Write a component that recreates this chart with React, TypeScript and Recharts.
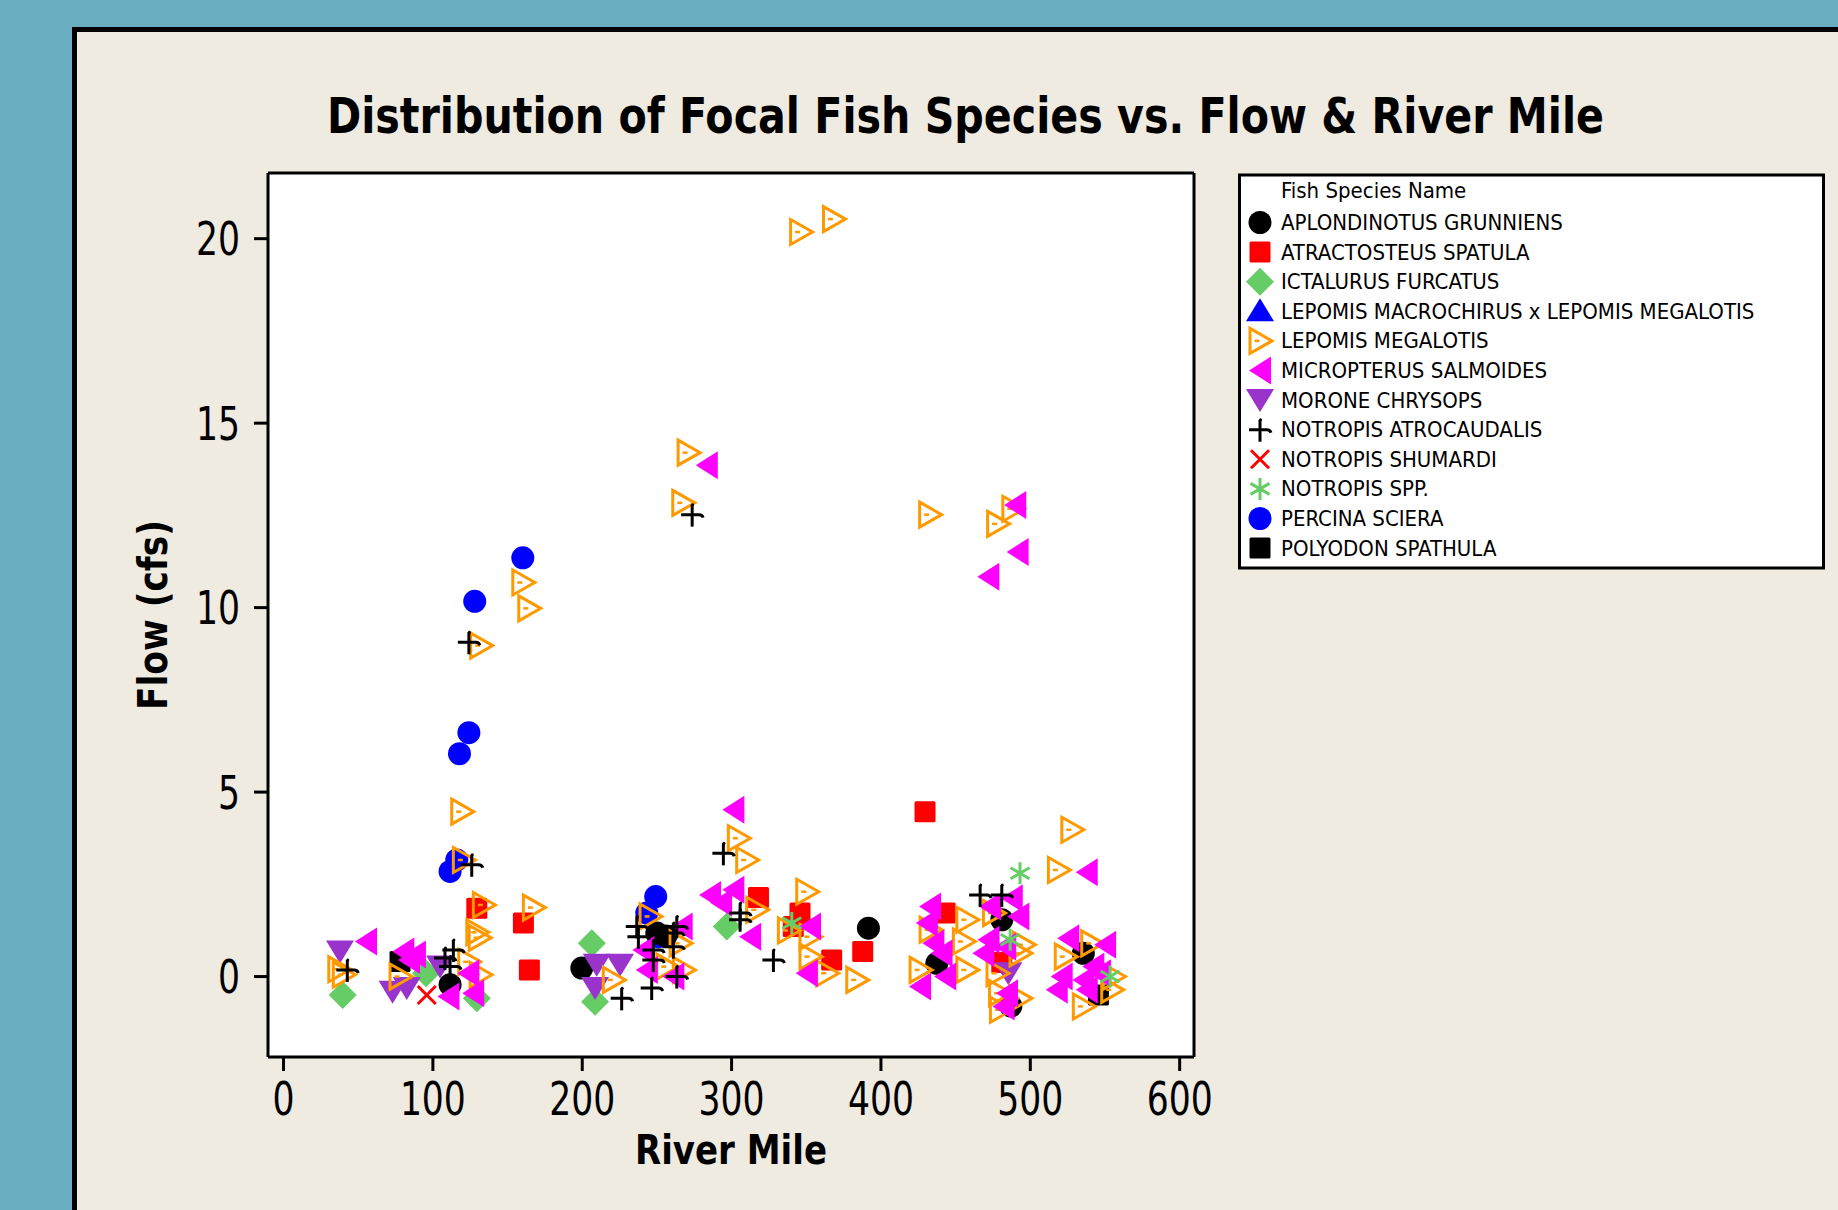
import React from 'react';
import { ScatterChart, Scatter, XAxis, YAxis, CartesianGrid } from 'recharts';

// ---------- axes ----------
const X_DOMAIN: [number, number] = [-10.4, 609.6];
const Y_DOMAIN: [number, number] = [-2.18, 21.78];
const X_TICKS = [0, 100, 200, 300, 400, 500, 600];
const Y_TICKS = [0, 5, 10, 15, 20];

const TITLE = 'Distribution of Focal Fish Species vs. Flow & River Mile';
const X_LABEL = 'River Mile';
const Y_LABEL = 'Flow (cfs)';
const LEGEND_TITLE = 'Fish Species Name';

// ---------- species (legend order) ----------
const SPECIES_NAMES = [
  'APLONDINOTUS GRUNNIENS',
  'ATRACTOSTEUS SPATULA',
  'ICTALURUS FURCATUS',
  'LEPOMIS MACROCHIRUS x LEPOMIS MEGALOTIS',
  'LEPOMIS MEGALOTIS',
  'MICROPTERUS SALMOIDES',
  'MORONE CHRYSOPS',
  'NOTROPIS ATROCAUDALIS',
  'NOTROPIS SHUMARDI',
  'NOTROPIS SPP.',
  'PERCINA SCIERA',
  'POLYODON SPATHULA',
];

// ---------- data: [river mile, flow] ----------
const aplodinotus: number[][] = [
  [199.7, 0.23], [111.5, -0.22], [249.9, 1.18], [256, 1.1], [391.6, 1.31],
  [437.4, 0.36], [480.9, 1.54], [487, -0.8], [535.5, 0.63],
];
const atractosteus: number[][] = [
  [129.4, 1.85], [160.6, 1.45], [164.6, 0.18], [318, 2.14], [341.3, 1.36],
  [345.8, 1.72], [367, 0.45], [387.8, 0.68], [429.5, 4.47], [443, 1.72], [480.9, 0.38],
];
const ictalurus: number[][] = [
  [39.6, -0.5], [95.4, 0.09], [129.4, -0.59], [206.4, 0.9], [208.6, -0.68], [296.8, 1.36],
];
const lepomisHybrid: number[][] = [];
const lepomisMegalotis: number[][] = [
  [37, 0.2], [40, 0.05], [78, 0], [119.3, 4.47], [120.4, 3.16], [124, 0.4], [129.4, 1.2],
  [131, 1.05], [131.6, 0.05], [132, 8.97], [133.8, 1.94], [160.2, 10.68], [164.2, 9.98],
  [167.3, 1.87], [220.8, -0.09], [245.4, 1.63], [256.6, 0.27], [265.5, 0.9], [267.7, 0.18],
  [267.3, 12.84], [270.9, 14.2], [304.5, 3.75], [310.1, 3.16], [316.8, 1.81], [346.2, 20.18],
  [368.2, 20.53], [350.3, 2.3], [352.5, 1.08], [352.5, 0.54], [363.7, 0.09], [383.8, -0.09],
  [338, 1.25], [426.2, 0.18], [432.9, 1.27], [432.6, 12.52], [455.2, 0.95], [457.5, 1.54],
  [457.5, 0.18], [475.3, 1.72], [477.7, 0.09], [478.1, 12.27], [479.4, -0.45], [480, -0.9],
  [488.3, 12.68], [493.1, 0.63], [493.1, -0.59], [495.4, 0.86], [518.8, 2.89], [523.4, 0.54],
  [527.8, 3.98], [535.5, -0.81], [541.1, 0.9], [554.5, -0.36], [555.6, 0],
];
const micropterus: number[][] = [
  [55.2, 0.95], [80.2, 0.68], [88, 0.6], [84, 0.45], [110.4, -0.54], [123.7, 0.09], [127, -0.45],
  [240.9, 0.72], [243.2, 0.18], [261, 0], [266.6, 1.36], [283.4, 13.86], [285.6, 2.21], [293, 2.0],
  [301.2, 4.52], [301.2, 2.35], [312.4, 1.08], [352.5, 1.36], [350.3, 0.09], [426.2, -0.27],
  [430.7, 1.45], [432.9, 1.9], [435.1, 0.9], [440.6, 0.63], [443, 0], [468.6, 0.63], [471.9, 10.84],
  [472, 1.0], [473, 1.9], [482.1, -0.81], [483.2, 0.81], [484.4, -0.45], [487.6, 2.12],
  [489.9, 12.78], [491.5, 11.51], [492, 1.63], [517.7, -0.36], [521, 0], [525.4, 1.04],
  [535.5, -0.09], [537.8, 2.83], [537.8, -0.36], [542.2, 0.27], [546.7, 0.09], [550.1, 0.86],
];
const morone: number[][] = [
  [37.8, 0.68], [73, -0.41], [82.5, -0.31], [104.8, 0.27], [208.6, -0.31], [209.7, 0.32],
  [225.3, 0.32], [485.3, 0.09],
];
const notropisAtro: number[][] = [
  [42.7, 0.18], [108.1, 0.5], [111.5, 0.27], [113.7, 0.72], [124.1, 9.06], [126, 3.03],
  [226.4, -0.59], [236.5, 1.36], [237.6, 1.08], [246.5, -0.31], [247.6, 0.72], [247.6, 0.45],
  [261, 1.18], [261, 0.81], [263.3, 1.36], [263.3, 0], [273.6, 12.52], [294.5, 3.34],
  [305.7, 1.72], [305.7, 1.54], [328, 0.45], [466.4, 2.21], [480.9, 2.21],
];
const notropisShumardi: number[][] = [[95.9, -0.5]];
const notropisSpp: number[][] = [[340.3, 1.45], [486.5, 1.0], [493.1, 2.8], [553.4, 0]];
const percina: number[][] = [
  [111.5, 2.85], [116, 3.16], [117.8, 6.04], [124.1, 6.61], [128, 10.17], [160.2, 11.35],
  [243.2, 1.72], [249.2, 2.17], [251, 1.08],
];
const polyodon: number[][] = [[78, 0.41], [545.6, -0.5]];

const SPECIES_DATA = [
  aplodinotus, atractosteus, ictalurus, lepomisHybrid, lepomisMegalotis, micropterus,
  morone, notropisAtro, notropisShumardi, notropisSpp, percina, polyodon,
];
const SPECIES_KIND = [
  'circle', 'square', 'diamond', 'triUp', 'triRightOpen', 'triLeft',
  'triDown', 'plus', 'cross', 'asterisk', 'circle', 'square',
];
const SPECIES_COLOR = [
  '#000000', '#FF0000', '#66CC66', '#0000FF', '#FF9900', '#FF00FF',
  '#9933CC', '#000000', '#FF0000', '#66CC66', '#0000FF', '#000000',
];
// drawing order (bottom to top)
const DRAW_ORDER = [10, 11, 0, 1, 2, 3, 6, 4, 5, 7, 8, 9];

const FONT = "'DejaVu Sans Condensed', 'DejaVu Sans', sans-serif";

function Marker({ kind, color, cx, cy }: { kind: string; color: string; cx: number; cy: number }) {
  switch (kind) {
    case 'circle':
      return <circle cx={cx} cy={cy} r={11.5} fill={color} />;
    case 'square':
      return <rect x={cx - 10.5} y={cy - 10.5} width={21} height={21} rx={1.5} fill={color} />;
    case 'diamond':
      return <polygon points={`${cx},${cy - 14} ${cx + 14},${cy} ${cx},${cy + 14} ${cx - 14},${cy}`} fill={color} />;
    case 'triUp':
      return <polygon points={`${cx},${cy - 13} ${cx + 14},${cy + 10} ${cx - 14},${cy + 10}`} fill={color} />;
    case 'triRightOpen':
      return (
        <g>
          <polygon
            points={`${cx - 10},${cy - 12.5} ${cx + 12},${cy} ${cx - 10},${cy + 12.5}`}
            fill="none" stroke={color} strokeWidth={3} strokeLinejoin="miter"
          />
          <line x1={cx - 5.5} y1={cy} x2={cx - 0.5} y2={cy} stroke={color} strokeWidth={2.5} />
        </g>
      );
    case 'triLeft':
      return <polygon points={`${cx - 11},${cy} ${cx + 11},${cy - 14} ${cx + 11},${cy + 14}`} fill={color} />;
    case 'triDown':
      return <polygon points={`${cx - 14},${cy - 11} ${cx + 14},${cy - 11} ${cx},${cy + 12}`} fill={color} />;
    case 'plus':
      return (
        <g stroke={color} strokeWidth={3} fill="none">
          <path d={`M${cx} ${cy - 10} V${cy + 12}`} />
          <path d={`M${cx - 11} ${cy} H${cx + 7} Q${cx + 10} ${cy} ${cx + 11} ${cy + 3}`} />
          <circle cx={cx + 0.5} cy={cy - 10} r={1.5} fill={color} stroke="none" />
        </g>
      );
    case 'cross':
      return (
        <path d={`M${cx - 9} ${cy - 9} L${cx + 9} ${cy + 9} M${cx + 9} ${cy - 9} L${cx - 9} ${cy + 9}`}
          stroke={color} strokeWidth={3} />
      );
    case 'asterisk':
      return (
        <path
          d={`M${cx} ${cy - 11} V${cy + 11} M${cx - 9.5} ${cy - 5.5} L${cx + 9.5} ${cy + 5.5} M${cx - 9.5} ${cy + 5.5} L${cx + 9.5} ${cy - 5.5}`}
          stroke={color} strokeWidth={3}
        />
      );
    default:
      return null;
  }
}

const XTick = (props: any) => {
  const { x, y, payload } = props;
  const label = String(payload.value);
  return (
    <text x={x} y={y + 44} textAnchor="middle" fontFamily={FONT} fontSize={46} fill="#000"
      textLength={label.length * 22} lengthAdjust="spacingAndGlyphs">{label}</text>
  );
};

const YTick = (props: any) => {
  const { x, y, payload } = props;
  const label = String(payload.value);
  return (
    <text x={x - 14} y={y + 16.5} textAnchor="end" fontFamily={FONT} fontSize={46} fill="#000"
      textLength={label.length * 22} lengthAdjust="spacingAndGlyphs">{label}</text>
  );
};

const W = 1838;
const H = 1210;
const PLOT = { left: 268, top: 173, right: 1194, bottom: 1057 };
const AXIS_SIZE = 60;
const EDGE_AXIS_SIZE = 1;

export default function App() {
  const series = SPECIES_NAMES.map((name, i) => ({
    name,
    kind: SPECIES_KIND[i],
    color: SPECIES_COLOR[i],
    data: SPECIES_DATA[i].map(([x, y]) => ({ x, y })),
  }));

  const legendX = 1239.5;
  const legendY = 175;
  const rowStart = 230;
  const rowStep = 29.6;

  return (
    <div style={{ position: 'absolute', left: 0, top: 0, width: W, height: H, overflow: 'hidden', background: '#69ADC1' }}>
      <div style={{
        position: 'absolute', left: 72, top: 27, width: W - 72, height: H - 27,
        background: '#EFEBE1', borderTop: '5px solid #000', borderLeft: '5px solid #000', boxSizing: 'border-box',
      }} />
      <div style={{ position: 'absolute', left: 0, top: 0 }}>
        <ScatterChart
          width={W}
          height={H}
          margin={{
            top: PLOT.top - EDGE_AXIS_SIZE,
            left: PLOT.left - AXIS_SIZE,
            right: W - PLOT.right - EDGE_AXIS_SIZE,
            bottom: H - PLOT.bottom - AXIS_SIZE,
          }}
        >
          <CartesianGrid fill="#FFFFFF" stroke="none" horizontal={false} vertical={false} />
          <XAxis
            type="number" dataKey="x" domain={X_DOMAIN} ticks={X_TICKS} interval={0}
            allowDataOverflow height={AXIS_SIZE} tickSize={14} tickMargin={0}
            axisLine={{ stroke: '#000', strokeWidth: 3 }}
            tickLine={{ stroke: '#000', strokeWidth: 3 }}
            tick={<XTick />}
          />
          <YAxis
            type="number" dataKey="y" domain={Y_DOMAIN} ticks={Y_TICKS} interval={0}
            allowDataOverflow width={AXIS_SIZE} tickSize={14} tickMargin={0}
            axisLine={{ stroke: '#000', strokeWidth: 3 }}
            tickLine={{ stroke: '#000', strokeWidth: 3 }}
            tick={<YTick />}
          />
          <XAxis
            xAxisId="top" orientation="top" type="number" domain={X_DOMAIN} allowDataOverflow
            height={EDGE_AXIS_SIZE} tick={false} tickLine={false} axisLine={{ stroke: '#000', strokeWidth: 3 }}
          />
          <YAxis
            yAxisId="right" orientation="right" type="number" domain={Y_DOMAIN} allowDataOverflow
            width={EDGE_AXIS_SIZE} tick={false} tickLine={false} axisLine={{ stroke: '#000', strokeWidth: 3 }}
          />
          {DRAW_ORDER.map((i) => {
            const s = series[i];
            return (
              <Scatter
                key={s.name}
                name={s.name}
                data={s.data}
                isAnimationActive={false}
                shape={(p: any) => <Marker kind={s.kind} color={s.color} cx={p.cx} cy={p.cy} />}
              />
            );
          })}
        </ScatterChart>
      </div>
      <svg width={W} height={H} style={{ position: 'absolute', left: 0, top: 0, pointerEvents: 'none' }}>
        <text x={965.5} y={133} textAnchor="middle" fontFamily={FONT} fontWeight="bold" fontSize={50}
          textLength={1277} lengthAdjust="spacingAndGlyphs" fill="#000">{TITLE}</text>
        <text x={(PLOT.left + PLOT.right) / 2} y={1164} textAnchor="middle" fontFamily={FONT} fontWeight="bold"
          fontSize={40} textLength={192} lengthAdjust="spacingAndGlyphs" fill="#000">{X_LABEL}</text>
        <text x={0} y={0} transform={`translate(167, 615) rotate(-90)`} textAnchor="middle" fontFamily={FONT}
          fontWeight="bold" fontSize={40} textLength={190} lengthAdjust="spacingAndGlyphs" fill="#000">{Y_LABEL}</text>
        <g>
          <rect x={legendX} y={legendY} width={584} height={393} fill="#FFFFFF" stroke="#000" strokeWidth={3} />
          <text x={1281} y={198} fontFamily={FONT} fontSize={22} fill="#000">{LEGEND_TITLE}</text>
          {series.map((s, i) => (
            <g key={s.name}>
              <Marker kind={s.kind} color={s.color} cx={1260} cy={rowStart - 7.5 + rowStep * i} />
              <text x={1281} y={rowStart + rowStep * i} fontFamily={FONT} fontSize={22} fill="#000">{s.name}</text>
            </g>
          ))}
        </g>
      </svg>
    </div>
  );
}
